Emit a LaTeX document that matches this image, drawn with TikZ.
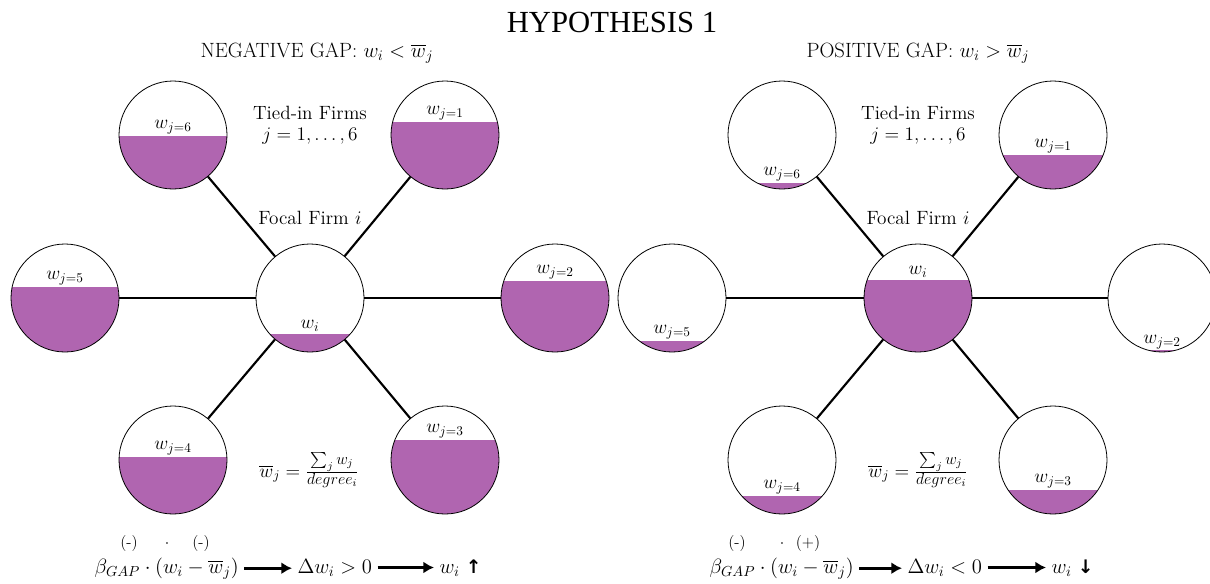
\documentclass[tikz,border=0pt]{standalone}
\usepackage{fix-cm}
\usepackage{amsmath}
\usepackage{fontspec}
\newfontfamily\titlefont{Liberation Serif}
\newfontfamily\arrowfont{DejaVu Sans}
\usetikzlibrary{arrows.meta}
\definecolor{gapfill}{RGB}{176,101,176}
\newcommand{\midsize}{\fontsize{15.5}{18}\selectfont}
\newcommand{\fracpart}[1]{\mbox{\fontsize{12}{14}\selectfont$#1$}}

\begin{document}
\begin{tikzpicture}[x=0.75pt, y=-0.75pt,
    every node/.style={font=\fontsize{14.4}{17}\selectfont},
    firm/.style={circle, draw, line width=0.6pt, minimum size=81pt, inner sep=0pt,
        path picture={\fill[gapfill] (path picture bounding box.south west) rectangle
            ([yshift={#1*0.75pt}]path picture bounding box.south east);}},
    lvl/.style={anchor=south, inner sep=1.5pt},
    tie/.style={line width=1.6pt},
    sgn/.style={font=\fontsize{12}{14}\selectfont, anchor=base},
    res/.style={font=\midsize, anchor=base west, inner sep=4pt},
    implies/.style={line width=2pt, -{Latex[length=8pt, width=9pt]}}]
    \useasboundingbox (0,0) rectangle (1210,583);

    \node[font=\titlefont\fontsize{23}{28}\selectfont] (title) at (612,22) {HYPOTHESIS 1};
    \node[font=\midsize] (subL) at (317,53) {NEGATIVE GAP: $w_i<\overline{w}_j$};
    \node[font=\midsize] (subR) at (918,53) {POSITIVE GAP: $w_i>\overline{w}_j$};

    % Negative gap
    \node[firm=18] (cL) at (310,298) {};
    \node[firm=67] (n1L) at (445,135) {};
    \node[firm=71] (n2L) at (555,298) {};
    \node[firm=74] (n3L) at (445,460) {};
    \node[firm=57] (n4L) at (173,460) {};
    \node[firm=65] (n5L) at (65,298) {};
    \node[firm=53] (n6L) at (173,135) {};
    \foreach \n in {1,...,6}
        \draw[tie] (cL) -- (n\n L);

    \node[lvl] (tcL) at (310,334) {$w_i$};
    \node[lvl] (t1L) at (445,122) {$w_{j=1}$};
    \node[lvl] (t2L) at (555,281) {$w_{j=2}$};
    \node[lvl] (t3L) at (445,440) {$w_{j=3}$};
    \node[lvl] (t4L) at (173,457) {$w_{j=4}$};
    \node[lvl] (t5L) at (65,287) {$w_{j=5}$};
    \node[lvl] (t6L) at (173,136) {$w_{j=6}$};

    \node (tiedL) at (310,113) {Tied-in Firms};
    \node (rangeL) at (310,136) {$j=1,\dots,6$};
    \node (focalL) at (310,218) {Focal Firm $i$};
    \node (meanL) at (309,470) {$\overline{w}_j=\frac{\fracpart{\sum_j w_j}}{\fracpart{degree_i}}$};

    \node[sgn] (sa1L) at (129,547) {(-)};
    \node[sgn] (dotL) at (167,547) {$\cdot$};
    \node[sgn] (sa2L) at (201,547) {(-)};
    \node[res] (gapL) at (89,573) {$\beta_{GAP}\cdot(w_i-\overline{w}_j)$};
    \node[res] (dwL) at (292,573) {$\Delta w_i>0$};
    \node[res] (wL) at (434,573) {$w_i$ {\arrowfont\bfseries\fontsize{14}{16}\selectfont ↑}};
    \draw[implies] (gapL.east) -- (gapL.east -| dwL.west);
    \draw[implies] (dwL.east) -- (dwL.east -| wL.west);

    % Positive gap
    \node[firm=72] (cR) at (918,298) {};
    \node[firm=34] (n1R) at (1053,135) {};
    \node[firm=2] (n2R) at (1162,298) {};
    \node[firm=24] (n3R) at (1053,460) {};
    \node[firm=18] (n4R) at (782,460) {};
    \node[firm=11] (n5R) at (672,298) {};
    \node[firm=6] (n6R) at (782,135) {};
    \foreach \n in {1,...,6}
        \draw[tie] (cR) -- (n\n R);

    \node[lvl] (tcR) at (918,280) {$w_i$};
    \node[lvl] (t1R) at (1053,155) {$w_{j=1}$};
    \node[lvl] (t2R) at (1162,351) {$w_{j=2}$};
    \node[lvl] (t3R) at (1053,490) {$w_{j=3}$};
    \node[lvl] (t4R) at (782,496) {$w_{j=4}$};
    \node[lvl] (t5R) at (672,341) {$w_{j=5}$};
    \node[lvl] (t6R) at (782,183) {$w_{j=6}$};

    \node (tiedR) at (918,113) {Tied-in Firms};
    \node (rangeR) at (918,136) {$j=1,\dots,6$};
    \node (focalR) at (918,218) {Focal Firm $i$};
    \node (meanR) at (918,470) {$\overline{w}_j=\frac{\fracpart{\sum_j w_j}}{\fracpart{degree_i}}$};

    \node[sgn] (sa1R) at (737,547) {(-)};
    \node[sgn] (dotR) at (782,547) {$\cdot$};
    \node[sgn] (sa2R) at (808,547) {(+)};
    \node[res] (gapR) at (704,573) {$\beta_{GAP}\cdot(w_i-\overline{w}_j)$};
    \node[res] (dwR) at (902,573) {$\Delta w_i<0$};
    \node[res] (wR) at (1046,573) {$w_i$ {\arrowfont\bfseries\fontsize{14}{16}\selectfont ↓}};
    \draw[implies] (gapR.east) -- (gapR.east -| dwR.west);
    \draw[implies] (dwR.east) -- (dwR.east -| wR.west);

\end{tikzpicture}
\end{document}
